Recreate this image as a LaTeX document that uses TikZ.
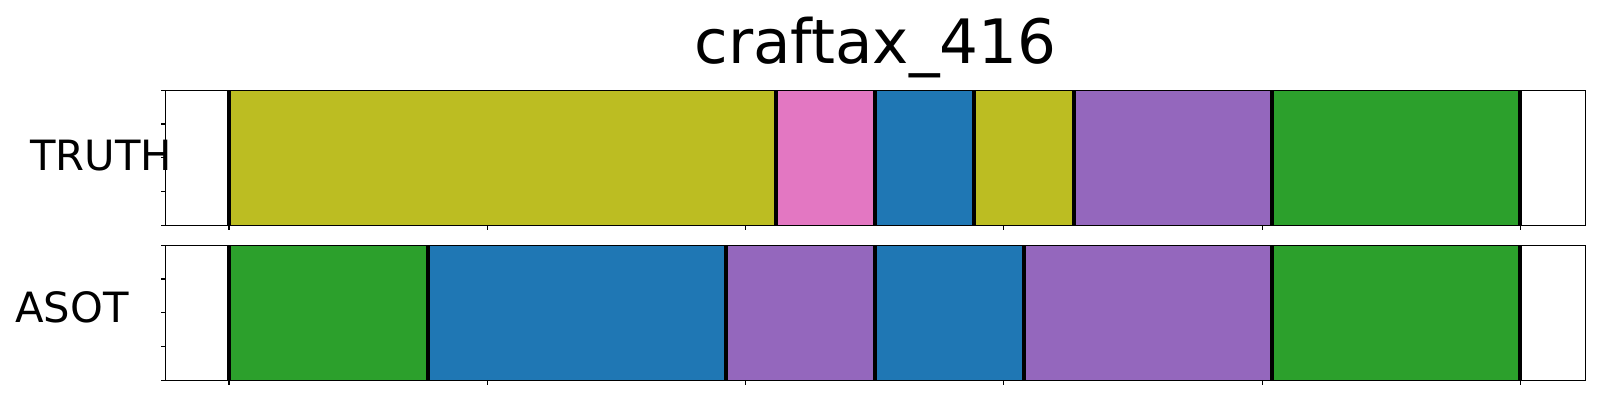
\documentclass[tikz,border=0pt]{standalone}
\usepackage{fontspec}
\setmainfont{DejaVu Sans}
\usepackage{xcolor}
\usepackage{tikz}
\usetikzlibrary{positioning}

\definecolor{tabolive}{HTML}{BCBD22}
\definecolor{tabpink}{HTML}{E377C2}
\definecolor{tabblue}{HTML}{1F77B4}
\definecolor{tabpurple}{HTML}{9467BD}
\definecolor{tabgreen}{HTML}{2CA02C}

\begin{document}
\begin{tikzpicture}[
    x=0.01cm, y=-0.01cm,
    cut/.style={line width=1.14pt, black},
    frame/.style={draw=black, line width=0.32pt},
    tickmark/.style={line width=0.32pt},
    rowlabel/.style={font=\fontsize{11.86}{14}\selectfont, inner sep=0pt, anchor=base west},
]
    \useasboundingbox (0,0) rectangle (1600,400);

    % Title
    \node[font=\fontsize{17.4}{21}\selectfont, inner sep=0pt, anchor=base] (title) at (875.5,63.3) {craftax\_416};

    % Row labels
    \node[rowlabel] (truth) at (29.3,170) {TRUTH};
    \node[rowlabel] (asot) at (14.7,322.7) {ASOT};

    % Segments
    \foreach \a/\b/\c in {229/775.7/tabolive, 775.7/875/tabpink, 875/974/tabblue,
                          974/1074/tabolive, 1074/1272/tabpurple, 1272/1520/tabgreen}
        \fill[\c] (\a,90.3) rectangle (\b,225.3);
    \foreach \a/\b/\c in {229/427.7/tabgreen, 427.7/726/tabblue, 726/875/tabpurple,
                          875/1023.7/tabblue, 1023.7/1272/tabpurple, 1272/1520/tabgreen}
        \fill[\c] (\a,245.3) rectangle (\b,380.3);

    % Boundaries
    \foreach \x in {229, 775.7, 875, 974, 1074, 1272, 1520}
        \draw[cut] (\x,90.3) -- (\x,225.3);
    \foreach \x in {229, 427.7, 726, 875, 1023.7, 1272, 1520}
        \draw[cut] (\x,245.3) -- (\x,380.3);

    % Axes and ticks
    \draw[frame] (165.7,90.3) rectangle (1585.3,225.3);
    \draw[frame] (165.7,245.3) rectangle (1585.3,380.3);
    \foreach \t in {0,...,4} {
        \draw[tickmark] (165.7,90.3+\t*33.75) -- ++(-4.9,0);
        \draw[tickmark] (165.7,245.3+\t*33.75) -- ++(-4.9,0);
    }
    \foreach \t in {0,...,5} {
        \draw[tickmark] (229+\t*258.3,225.3) -- ++(0,4.9);
        \draw[tickmark] (229+\t*258.3,380.3) -- ++(0,4.9);
    }
\end{tikzpicture}
\end{document}
